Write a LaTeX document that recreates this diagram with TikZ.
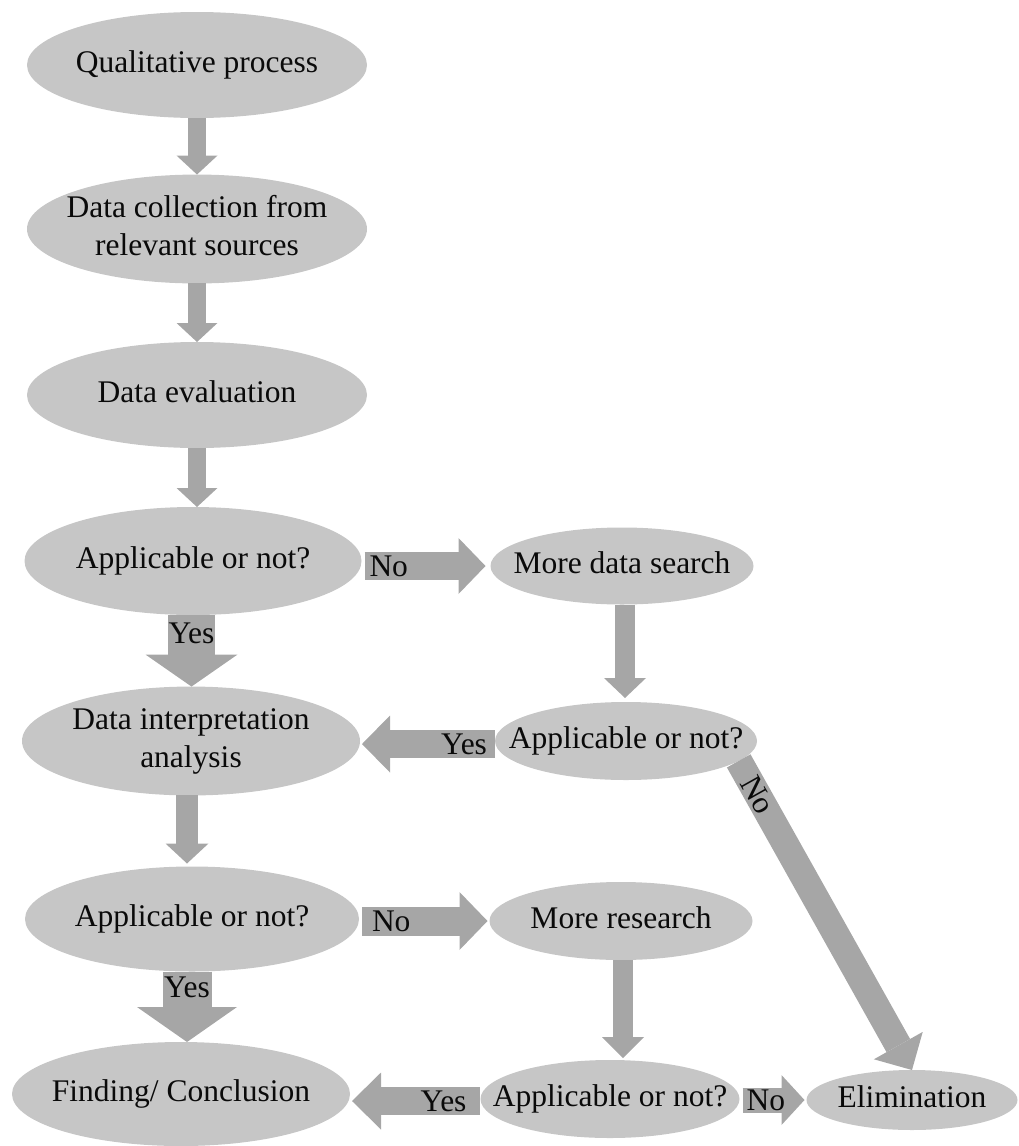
\documentclass[tikz,border=0pt]{standalone}
\usepackage{fontspec}
\setmainfont{Liberation Serif}
\usetikzlibrary{shapes.geometric,arrows.meta,calc}
\definecolor{ellgray}{HTML}{C6C6C6}
\definecolor{arrgray}{HTML}{A6A6A6}
\definecolor{txtcol}{HTML}{0A0A0A}
\newcommand{\zw}[1]{\makebox[0pt]{\begin{tabular}{@{}c@{}}#1\end{tabular}}}
\begin{document}
\begin{tikzpicture}[x=1pt,y=-1pt,
  font=\fontsize{31.5pt}{38.5pt}\selectfont, text=txtcol,
  elli/.style={ellipse, fill=ellgray, inner sep=0pt, outer sep=0pt},
  flow/.style n args={3}{draw=arrgray, line width=#1,
     -{Triangle[length=#3, width=#2, line width=0pt]}},
  lbl/.style={inner sep=0pt, outer sep=0pt, text=txtcol}]
\useasboundingbox (0,0) rectangle (1019,1146);

% nodes
\node[elli, minimum width=340, minimum height=106] (q)   at (197,65)   {\zw{Qualitative process}};
\node[elli, minimum width=340, minimum height=108] (dc)  at (197,229)  {\zw{Data collection from\\relevant sources}};
\node[elli, minimum width=340, minimum height=106] (de)  at (197,395)  {\zw{Data evaluation}};
\node[elli, minimum width=337, minimum height=108] (a1)  at (193,561)  {\zw{Applicable or not?}};
\node[elli, minimum width=263, minimum height=77]  (mds) at (622,566)  {\zw{More data search}};
\node[elli, minimum width=262, minimum height=78]  (a2)  at (626,741)  {\zw{Applicable or not?}};
\node[elli, minimum width=338, minimum height=108] (di)  at (191,741)  {\zw{Data interpretation\\analysis}};
\node[elli, minimum width=334, minimum height=105] (a3)  at (192,919)  {\zw{Applicable or not?}};
\node[elli, minimum width=263, minimum height=78]  (mr)  at (621,921)  {\zw{More research}};
\node[elli, minimum width=338, minimum height=104] (fc)  at (181,1094) {\zw{Finding/ Conclusion}};
\node[elli, minimum width=259, minimum height=78]  (a4)  at (610,1099) {\zw{Applicable or not?}};
\node[elli, minimum width=211, minimum height=60]  (el)  at (912,1100) {\zw{Elimination}};

% connectors
\draw[flow={18pt}{41pt}{19pt}] (q.south) -- (dc.north);
\draw[flow={18pt}{41pt}{19pt}] (dc.south) -- (de.north);
\draw[flow={18pt}{41pt}{19pt}] (de.south) -- (de.south |- a1.north);

\draw[flow={47pt}{92pt}{32pt}] ($(a1.south)+(-1.5,0)$) -- ($(a1.south |- di.north)+(-1.5,0)$)
  node[pos=0, anchor=north, lbl, yshift=-8pt] {Yes};
\draw[flow={28pt}{56pt}{27pt}] ($(a1.east |- mds.west)+(3,0)$) -- ($(mds.west)+(-5,0)$)
  node[pos=0, anchor=west, lbl, xshift=5pt] {No};
\draw[flow={20pt}{42pt}{20pt}] ($(mds.south)+(3,0)$) -- ($(mds.south |- a2.north)+(3,-4)$);
\draw[flow={28pt}{57pt}{28pt}] ($(a2.west)+(0,3)$) -- ($(di.east |- a2.west)+(2,3)$)
  node[pos=0, anchor=east, lbl, xshift=-8pt] {Yes};
\draw[flow={27pt}{56pt}{28pt}] (a2.-10) -- (el.north)
  node[pos=0.11, sloped, lbl] {No};

\draw[flow={22pt}{43pt}{20pt}] ($(di.south)+(-4,0)$) -- ($(di.south |- a3.north)+(-4,-3)$);
\draw[flow={29pt}{58pt}{28pt}] ($(a3.east |- mr.west)+(3,0)$) -- ($(mr.west)+(-2,0)$)
  node[pos=0, anchor=west, lbl, xshift=10pt] {No};
\draw[flow={49pt}{100pt}{35pt}] ($(a3.south)+(-5,0)$) -- ($(a3.south |- fc.north)+(-5,0)$)
  node[pos=0, anchor=north, lbl, yshift=-5.5pt] {Yes};

\draw[flow={20pt}{42pt}{21pt}] ($(mr.south)+(2,0)$) -- ($(mr.south |- a4.north)+(2,-2)$);
\draw[flow={28pt}{57pt}{29pt}] ($(a4.west)+(-1,2)$) -- ($(fc.east |- a4.west)+(2,2)$)
  node[pos=0, anchor=east, lbl, xshift=-13pt] {Yes};
\draw[flow={25pt}{50pt}{23pt}] ($(a4.east)+(3,1)$) -- ($(el.west)+(-2,0)$)
  node[pos=0, anchor=west, lbl, xshift=4pt] {No};
\end{tikzpicture}
\end{document}
